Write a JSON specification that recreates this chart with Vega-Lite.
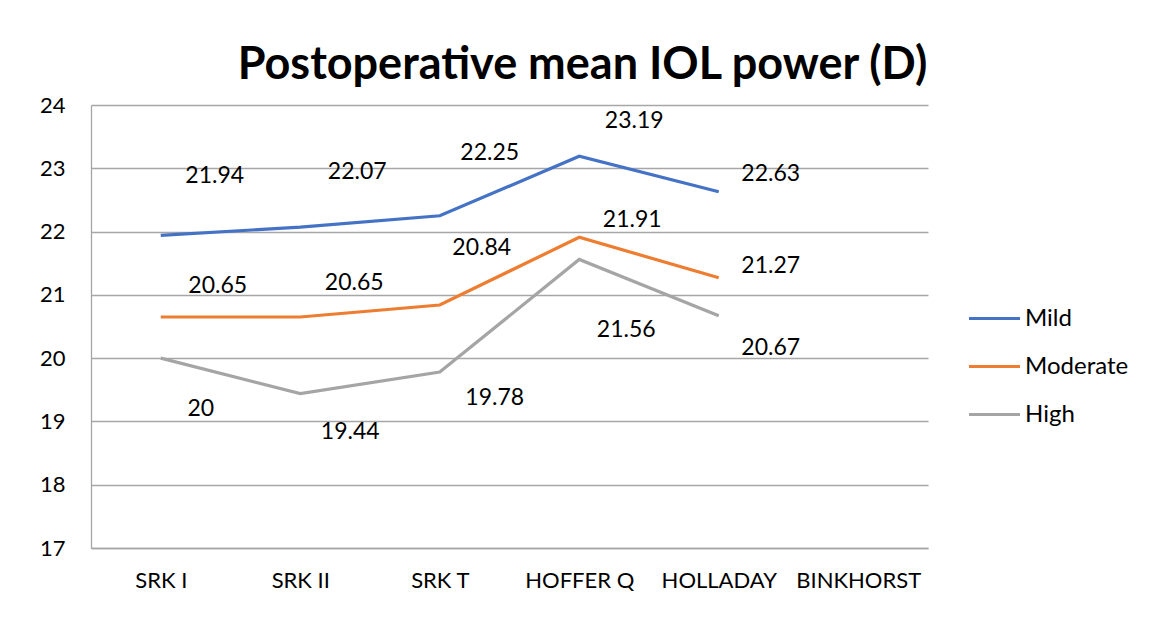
{
  "$schema": "https://vega.github.io/schema/vega-lite/v6.json",
  "width": 837,
  "height": 443,
  "autosize": "none",
  "padding": {"left": 91, "top": 105, "right": 221, "bottom": 84},
  "background": "white",
  "title": {
    "text": "Postoperative mean IOL power (D)",
    "font": "Lato",
    "fontSize": 45,
    "fontWeight": "bold",
    "color": "#000000",
    "anchor": "middle",
    "dx": 73,
    "offset": 6
  },
  "data": {
    "values": [
      {"formula": "SRK I", "severity": "Mild", "power": 21.94},
      {"formula": "SRK II", "severity": "Mild", "power": 22.07},
      {"formula": "SRK T", "severity": "Mild", "power": 22.25},
      {"formula": "HOFFER Q", "severity": "Mild", "power": 23.19},
      {"formula": "HOLLADAY", "severity": "Mild", "power": 22.63},
      {"formula": "SRK I", "severity": "Moderate", "power": 20.65},
      {"formula": "SRK II", "severity": "Moderate", "power": 20.65},
      {"formula": "SRK T", "severity": "Moderate", "power": 20.84},
      {"formula": "HOFFER Q", "severity": "Moderate", "power": 21.91},
      {"formula": "HOLLADAY", "severity": "Moderate", "power": 21.27},
      {"formula": "SRK I", "severity": "High", "power": 20},
      {"formula": "SRK II", "severity": "High", "power": 19.44},
      {"formula": "SRK T", "severity": "High", "power": 19.78},
      {"formula": "HOFFER Q", "severity": "High", "power": 21.56},
      {"formula": "HOLLADAY", "severity": "High", "power": 20.67}
    ]
  },
  "encoding": {
    "x": {
      "field": "formula",
      "type": "nominal",
      "title": null,
      "scale": {
        "type": "point",
        "padding": 0.5,
        "domain": ["SRK I", "SRK II", "SRK T", "HOFFER Q", "HOLLADAY", "BINKHORST"]
      },
      "axis": {
        "labelAngle": 0,
        "labelFont": "Lato",
        "labelFontSize": 22,
        "labelColor": "#000000",
        "labelPadding": 22,
        "ticks": false,
        "domain": true,
        "domainColor": "#a6a6a6",
        "domainWidth": 1.3,
        "grid": false
      }
    },
    "y": {
      "field": "power",
      "type": "quantitative",
      "title": null,
      "scale": {"domain": [17, 24], "nice": false, "zero": false},
      "axis": {
        "values": [17, 18, 19, 20, 21, 22, 23, 24],
        "labelFont": "Lato",
        "labelFontSize": 22,
        "labelColor": "#000000",
        "labelPadding": 26,
        "ticks": false,
        "domain": true,
        "domainColor": "#a6a6a6",
        "domainWidth": 1.3,
        "grid": true,
        "gridColor": "#a6a6a6",
        "gridWidth": 1.3
      }
    }
  },
  "layer": [
    {
      "mark": {"type": "line", "strokeWidth": 3.2},
      "encoding": {
        "color": {
          "field": "severity",
          "type": "nominal",
          "title": null,
          "scale": {
            "domain": ["Mild", "Moderate", "High"],
            "range": ["#4472C4", "#ED7D31", "#A5A5A5"]
          },
          "legend": {
            "orient": "none",
            "legendX": 876,
            "legendY": 186,
            "symbolType": "stroke",
            "symbolSize": 2601,
            "symbolStrokeWidth": 3.2,
            "rowPadding": 8,
            "labelOffset": 3,
            "labelFont": "Lato",
            "labelFontSize": 24,
            "labelColor": "#000000"
          }
        }
      }
    },
    {"transform": [{"filter": "datum.severity=='Mild' && datum.formula=='SRK I'"}], "mark": {"type": "text", "dx": 54, "dy": -59, "font": "Lato", "fontSize": 23, "baseline": "middle"}, "encoding": {"text": {"field": "power", "type": "quantitative"}}},
    {"transform": [{"filter": "datum.severity=='Mild' && datum.formula=='SRK II'"}], "mark": {"type": "text", "dx": 57, "dy": -55, "font": "Lato", "fontSize": 23, "baseline": "middle"}, "encoding": {"text": {"field": "power", "type": "quantitative"}}},
    {"transform": [{"filter": "datum.severity=='Mild' && datum.formula=='SRK T'"}], "mark": {"type": "text", "dx": 50, "dy": -63, "font": "Lato", "fontSize": 23, "baseline": "middle"}, "encoding": {"text": {"field": "power", "type": "quantitative"}}},
    {"transform": [{"filter": "datum.severity=='Mild' && datum.formula=='HOFFER Q'"}], "mark": {"type": "text", "dx": 55, "dy": -35, "font": "Lato", "fontSize": 23, "baseline": "middle"}, "encoding": {"text": {"field": "power", "type": "quantitative"}}},
    {"transform": [{"filter": "datum.severity=='Mild' && datum.formula=='HOLLADAY'"}], "mark": {"type": "text", "dx": 52, "dy": -18, "font": "Lato", "fontSize": 23, "baseline": "middle"}, "encoding": {"text": {"field": "power", "type": "quantitative"}}},
    {"transform": [{"filter": "datum.severity=='Moderate' && datum.formula=='SRK I'"}], "mark": {"type": "text", "dx": 57, "dy": -31, "font": "Lato", "fontSize": 23, "baseline": "middle"}, "encoding": {"text": {"field": "power", "type": "quantitative"}}},
    {"transform": [{"filter": "datum.severity=='Moderate' && datum.formula=='SRK II'"}], "mark": {"type": "text", "dx": 54, "dy": -34, "font": "Lato", "fontSize": 23, "baseline": "middle"}, "encoding": {"text": {"field": "power", "type": "quantitative"}}},
    {"transform": [{"filter": "datum.severity=='Moderate' && datum.formula=='SRK T'"}], "mark": {"type": "text", "dx": 42, "dy": -57, "font": "Lato", "fontSize": 23, "baseline": "middle"}, "encoding": {"text": {"field": "power", "type": "quantitative"}}},
    {"transform": [{"filter": "datum.severity=='Moderate' && datum.formula=='HOFFER Q'"}], "mark": {"type": "text", "dx": 53, "dy": -17, "font": "Lato", "fontSize": 23, "baseline": "middle"}, "encoding": {"text": {"field": "power", "type": "quantitative"}}},
    {"transform": [{"filter": "datum.severity=='Moderate' && datum.formula=='HOLLADAY'"}], "mark": {"type": "text", "dx": 52, "dy": -12, "font": "Lato", "fontSize": 23, "baseline": "middle"}, "encoding": {"text": {"field": "power", "type": "quantitative"}}},
    {"transform": [{"filter": "datum.severity=='High' && datum.formula=='SRK I'"}], "mark": {"type": "text", "dx": 40, "dy": 51, "font": "Lato", "fontSize": 23, "baseline": "middle"}, "encoding": {"text": {"field": "power", "type": "quantitative"}}},
    {"transform": [{"filter": "datum.severity=='High' && datum.formula=='SRK II'"}], "mark": {"type": "text", "dx": 50, "dy": 38, "font": "Lato", "fontSize": 23, "baseline": "middle"}, "encoding": {"text": {"field": "power", "type": "quantitative"}}},
    {"transform": [{"filter": "datum.severity=='High' && datum.formula=='SRK T'"}], "mark": {"type": "text", "dx": 55, "dy": 26, "font": "Lato", "fontSize": 23, "baseline": "middle"}, "encoding": {"text": {"field": "power", "type": "quantitative"}}},
    {"transform": [{"filter": "datum.severity=='High' && datum.formula=='HOFFER Q'"}], "mark": {"type": "text", "dx": 47, "dy": 71, "font": "Lato", "fontSize": 23, "baseline": "middle"}, "encoding": {"text": {"field": "power", "type": "quantitative"}}},
    {"transform": [{"filter": "datum.severity=='High' && datum.formula=='HOLLADAY'"}], "mark": {"type": "text", "dx": 52, "dy": 32, "font": "Lato", "fontSize": 23, "baseline": "middle"}, "encoding": {"text": {"field": "power", "type": "quantitative"}}}
  ],
  "config": {
    "view": {"stroke": null}
  }
}
